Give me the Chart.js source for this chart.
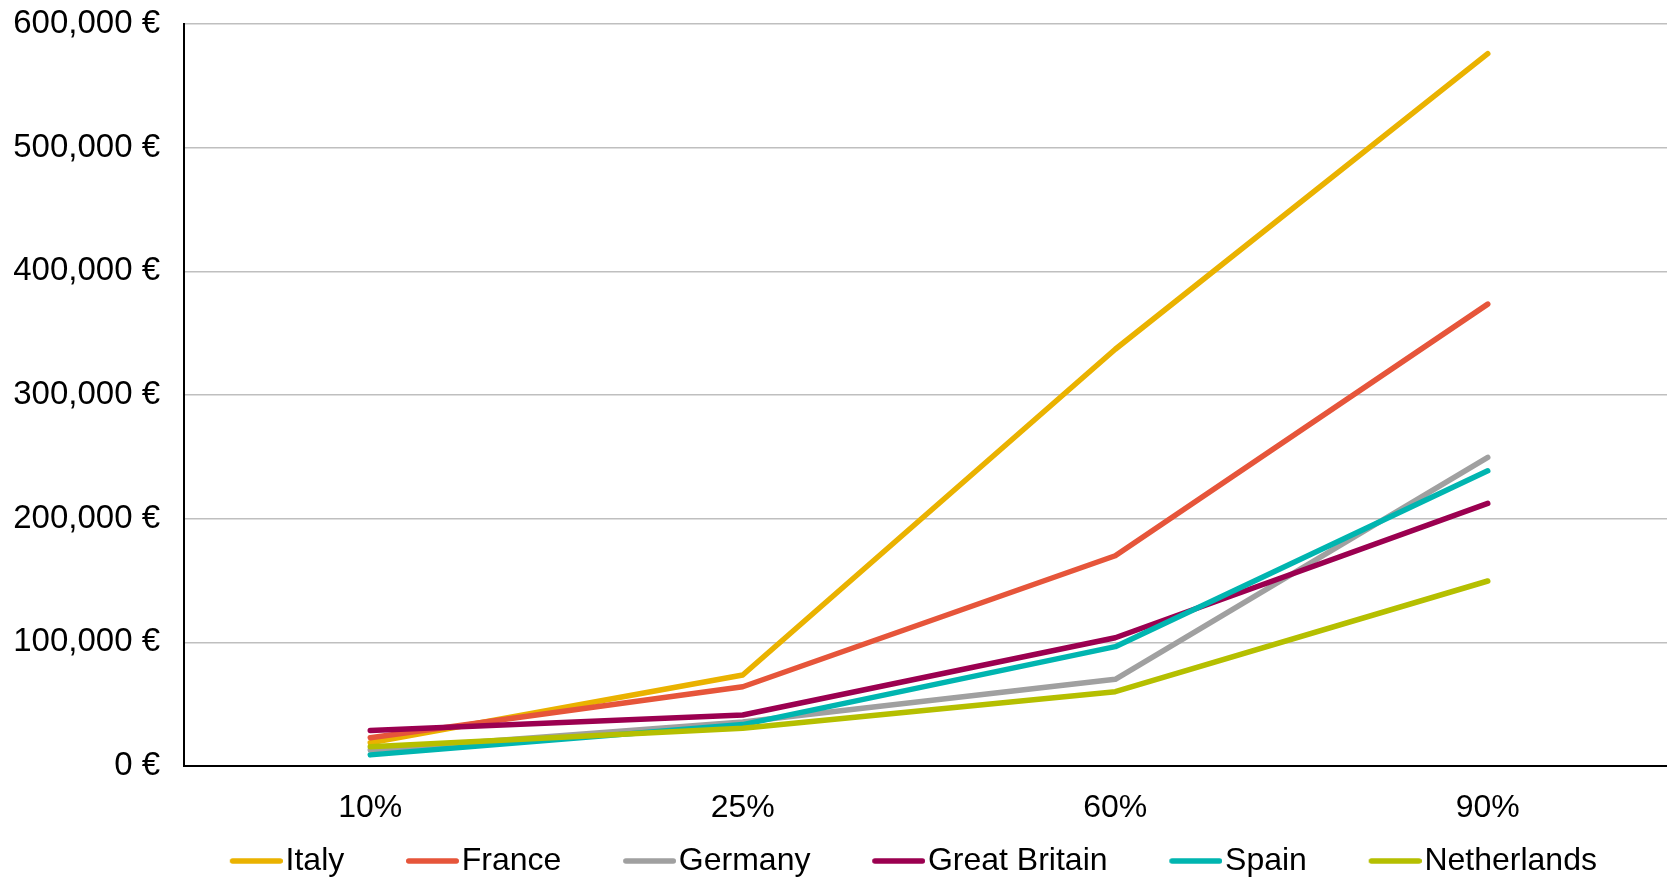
<!DOCTYPE html>
<html>
<head>
<meta charset="utf-8">
<script src="https://cdn.jsdelivr.net/npm/chart.js@4/dist/chart.umd.min.js"></script>
<style>
  html, body { margin: 0; padding: 0; background: #fff; }
  #wrap { width: 1667px; height: 880px; position: relative; }
</style>
</head>
<body>
<div id="wrap"><canvas id="c"></canvas></div>
<script>
// Percentile categories
const categories = ['10%', '25%', '60%', '90%'];

// Values per country (EUR)
const italy        = [18800, 73600, 337000, 576000];
const france       = [22900, 64100, 170000, 373500];
const germany      = [13000, 35500, 70100, 249600];
const greatBritain = [28800, 41200, 103700, 212400];
const spain        = [9000, 33500, 96500, 238700];
const netherlands  = [15600, 30500, 60100, 149600];

const seriesNames = ['Italy', 'France', 'Germany', 'Great Britain', 'Spain', 'Netherlands'];
const seriesValues = [italy, france, germany, greatBritain, spain, netherlands];
const seriesColors = ['#EAB200', '#E6553A', '#A0A0A0', '#9B0050', '#00B5B0', '#B5BF00'];

// Y axis ticks
const yMin = 0;
const yMax = 600000;
const yStep = 100000;

const FAMILY = '"Liberation Sans", Arial, sans-serif';
const FONT = { family: FAMILY, size: 32 };
const Y_FONT = { family: FAMILY, size: 33 };
const LINE_W = 5.5;

// Legend swatch geometry: the visible line is 53px long and ends 3px
// before the label; the reserved box is wider so that items sit ~61px apart.
const LEG_PAD = 3;
const SWATCH_LEN = 53;
const SWATCH_BOX = 101.5 - LEG_PAD;
function makeSwatch(color) {
  const tail = SWATCH_LEN - 40;              // part reaching past the box
  const w = SWATCH_BOX + 2 * tail;
  const cv = document.createElement('canvas');
  cv.width = Math.round(w);
  cv.height = 10;
  const g = cv.getContext('2d');
  g.strokeStyle = color;
  g.lineWidth = LINE_W;
  g.lineCap = 'round';
  g.beginPath();
  g.moveTo(cv.width - SWATCH_LEN + LINE_W / 2, 5);
  g.lineTo(cv.width - LINE_W / 2, 5);
  g.stroke();
  return cv;
}

const datasets = seriesNames.map((name, i) => ({
  label: name,
  data: seriesValues[i],
  borderColor: seriesColors[i],
  backgroundColor: seriesColors[i],
  borderWidth: LINE_W,
  borderCapStyle: 'round',
  borderJoinStyle: 'round',
  tension: 0,
  pointRadius: 0,
  pointHoverRadius: 0,
  pointStyle: makeSwatch(seriesColors[i]),
  fill: false,
  order: seriesNames.length - i
}));

const fmt = v => v.toLocaleString('en-US') + ' \u20AC';

// Layout tweaks: centre the legend row over the region right of the value
// labels, and let the category band run slightly past the right edge.
const layoutTweaks = {
  id: 'layoutTweaks',
  afterLayout(chart) {
    if (chart.legend) chart.legend.left = 101;
    const x = chart.scales.x;
    x.right += 7;
    x.width = x.right - x.left;
    x.configure();
  }
};

new Chart(document.getElementById('c'), {
  type: 'line',
  data: { labels: categories, datasets },
  plugins: [layoutTweaks],
  options: {
    responsive: true,
    maintainAspectRatio: false,
    animation: false,
    layout: { padding: { left: 0, right: 0, top: 0, bottom: -7 } },
    plugins: {
      tooltip: { enabled: false },
      legend: {
        position: 'bottom',
        labels: {
          usePointStyle: true,
          pointStyleWidth: SWATCH_BOX,
          boxHeight: 10,
          padding: LEG_PAD,
          color: '#000',
          font: FONT,
          sort: (a, b) => a.datasetIndex - b.datasetIndex
        }
      }
    },
    scales: {
      x: {
        type: 'category',
        offset: true,
        grid: { display: false, drawTicks: false },
        border: { display: true, color: '#000', width: 2 },
        ticks: { color: '#000', font: FONT, padding: 23, maxRotation: 0 },
        afterFit: s => { s.height = 76; }
      },
      y: {
        min: yMin,
        max: yMax,
        grid: { color: '#BFBFBF', lineWidth: 1.5, drawTicks: false },
        border: { display: true, color: '#000', width: 2 },
        ticks: {
          stepSize: yStep,
          color: '#000',
          font: Y_FONT,
          padding: 24,
          callback: v => fmt(v)
        },
        afterFit: s => { s.width = 184; s.paddingTop = 24; }
      }
    }
  }
});
</script>
</body>
</html>
